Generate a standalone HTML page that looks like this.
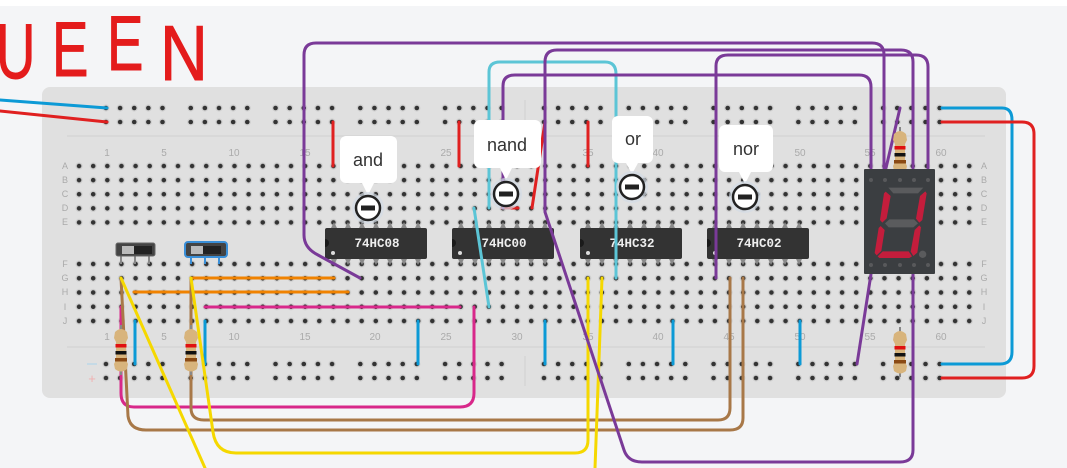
<!DOCTYPE html>
<html><head><meta charset="utf-8"><style>
html,body{margin:0;padding:0;background:#fff;}
svg{display:block;}
</style></head><body>
<svg width="1067" height="468" viewBox="0 0 1067 468" xmlns="http://www.w3.org/2000/svg" style="font-family:'Liberation Sans',sans-serif">
<defs>
<pattern id="pt" x="72" y="159" width="14.13" height="14.1" patternUnits="userSpaceOnUse">
<circle cx="7.06" cy="7.05" r="3.6" fill="#cfcfcf"/><circle cx="7.06" cy="7.05" r="2.3" fill="#333"/></pattern>
<pattern id="pb" x="72" y="256.9" width="14.13" height="14.25" patternUnits="userSpaceOnUse">
<circle cx="7.06" cy="7.12" r="3.6" fill="#cfcfcf"/><circle cx="7.06" cy="7.12" r="2.3" fill="#333"/></pattern>
<pattern id="pr" x="0" y="101" width="14.13" height="14" patternUnits="userSpaceOnUse">
<circle cx="7.06" cy="7" r="3.6" fill="#cfcfcf"/><circle cx="7.06" cy="7" r="2.3" fill="#333"/></pattern>
<pattern id="pr2" x="0" y="357" width="14.13" height="14" patternUnits="userSpaceOnUse">
<circle cx="7.06" cy="7" r="3.6" fill="#cfcfcf"/><circle cx="7.06" cy="7" r="2.3" fill="#333"/></pattern>
<g id="res">
<line x1="0" y1="-25" x2="0" y2="25" stroke="#888" stroke-width="2"/>
<path d="M-6,-18 Q0,-24 6,-18 L7,-12 L5,-8 L5,10 L7,14 L6,19 Q0,24 -6,19 L-7,14 L-5,10 L-5,-8 L-7,-12 Z" fill="#d8b47c"/>
<rect x="-5.5" y="-6" width="11" height="3.5" fill="#e01010"/>
<rect x="-5.5" y="1" width="11" height="3.5" fill="#111"/>
<rect x="-6" y="8" width="12" height="3.5" fill="#8a4a14"/>
</g>
</defs>
<rect x="0" y="6" width="1067" height="462" fill="#f4f5f7"/>
<!-- board -->
<rect x="42" y="87" width="964" height="311" rx="8" fill="#e0e0e0"/>
<line x1="67" y1="136" x2="985" y2="136" stroke="#d0d0d0" stroke-width="1"/>
<line x1="67" y1="347" x2="985" y2="347" stroke="#d0d0d0" stroke-width="1"/>
<line x1="525" y1="100" x2="525" y2="130" stroke="#d0d0d0"/>
<line x1="525" y1="356" x2="525" y2="386" stroke="#d0d0d0"/>
<rect x="72" y="159" width="904.3" height="70.5" fill="url(#pt)"/>
<rect x="72" y="256.9" width="904.3" height="71.3" fill="url(#pb)"/>
<g>
<rect x="100" y="101" width="70.6" height="28" fill="url(#pr)"/>
<rect x="184" y="101" width="70.6" height="28" fill="url(#pr)"/>
<rect x="269" y="101" width="70.6" height="28" fill="url(#pr)"/>
<rect x="353" y="101" width="70.6" height="28" fill="url(#pr)"/>
<rect x="439" y="101" width="70.6" height="28" fill="url(#pr)"/>
<rect x="538" y="101" width="70.6" height="28" fill="url(#pr)"/>
<rect x="623" y="101" width="70.6" height="28" fill="url(#pr)"/>
<rect x="707" y="101" width="70.6" height="28" fill="url(#pr)"/>
<rect x="792" y="101" width="70.6" height="28" fill="url(#pr)"/>
<rect x="877" y="101" width="70.6" height="28" fill="url(#pr)"/>
</g>
<g>
<rect x="100" y="357" width="70.6" height="28" fill="url(#pr2)"/>
<rect x="184" y="357" width="70.6" height="28" fill="url(#pr2)"/>
<rect x="269" y="357" width="70.6" height="28" fill="url(#pr2)"/>
<rect x="353" y="357" width="70.6" height="28" fill="url(#pr2)"/>
<rect x="439" y="357" width="70.6" height="28" fill="url(#pr2)"/>
<rect x="538" y="357" width="70.6" height="28" fill="url(#pr2)"/>
<rect x="623" y="357" width="70.6" height="28" fill="url(#pr2)"/>
<rect x="707" y="357" width="70.6" height="28" fill="url(#pr2)"/>
<rect x="792" y="357" width="70.6" height="28" fill="url(#pr2)"/>
<rect x="877" y="357" width="70.6" height="28" fill="url(#pr2)"/>
</g>
<!-- labels -->
<g font-size="10" fill="#aaa" text-anchor="middle">
<text x="107" y="156">1</text><text x="164" y="156">5</text><text x="234" y="156">10</text><text x="305" y="156">15</text><text x="375" y="156">20</text><text x="446" y="156">25</text><text x="517" y="156">30</text><text x="588" y="156">35</text><text x="658" y="156">40</text><text x="729" y="156">45</text><text x="800" y="156">50</text><text x="870" y="156">55</text><text x="941" y="156">60</text>
<text x="107" y="340">1</text><text x="164" y="340">5</text><text x="234" y="340">10</text><text x="305" y="340">15</text><text x="375" y="340">20</text><text x="446" y="340">25</text><text x="517" y="340">30</text><text x="588" y="340">35</text><text x="658" y="340">40</text><text x="729" y="340">45</text><text x="800" y="340">50</text><text x="870" y="340">55</text><text x="941" y="340">60</text>
<g font-size="9">
<text x="65" y="169">A</text><text x="65" y="183">B</text><text x="65" y="197">C</text><text x="65" y="211">D</text><text x="65" y="225">E</text>
<text x="65" y="267">F</text><text x="65" y="281">G</text><text x="65" y="295">H</text><text x="65" y="310">I</text><text x="65" y="324">J</text>
<text x="984" y="169">A</text><text x="984" y="183">B</text><text x="984" y="197">C</text><text x="984" y="211">D</text><text x="984" y="225">E</text>
<text x="984" y="267">F</text><text x="984" y="281">G</text><text x="984" y="295">H</text><text x="984" y="310">I</text><text x="984" y="324">J</text>
</g>
</g>
<line x1="87" y1="364" x2="97" y2="364" stroke="#bcd8e8" stroke-width="1.5"/>
<text x="92" y="383" font-size="13" fill="#f0b0b0" text-anchor="middle">+</text>
<!-- UEEN -->
<g font-size="78" fill="#e41c1c" stroke="#e41c1c" stroke-width="1">
<text transform="translate(-4 78) scale(0.7 1)">U</text>
<text transform="translate(52 76) scale(0.7 1)">E</text>
<text transform="translate(107 70) scale(0.7 1)">E</text>
<text transform="translate(160 80) scale(0.85 1)">N</text>
</g>
<!-- ICs -->
<g fill="#8a8a8a">
<path d="M334,222 l-3,6 h6z M348,222 l-3,6 h6z M362,222 l-3,6 h6z M376,222 l-3,6 h6z M390,222 l-3,6 h6z M404,222 l-3,6 h6z M418,222 l-3,6 h6z"/>
<path d="M461,222 l-3,6 h6z M475,222 l-3,6 h6z M489,222 l-3,6 h6z M503,222 l-3,6 h6z M517,222 l-3,6 h6z M531,222 l-3,6 h6z M545,222 l-3,6 h6z"/>
<path d="M588,222 l-3,6 h6z M602,222 l-3,6 h6z M616,222 l-3,6 h6z M630,222 l-3,6 h6z M644,222 l-3,6 h6z M658,222 l-3,6 h6z M672,222 l-3,6 h6z"/>
<path d="M715,222 l-3,6 h6z M729,222 l-3,6 h6z M743,222 l-3,6 h6z M757,222 l-3,6 h6z M771,222 l-3,6 h6z M785,222 l-3,6 h6z M799,222 l-3,6 h6z"/>
<path d="M331,259 l3,6 l3,-6z M345,259 l3,6 l3,-6z M359,259 l3,6 l3,-6z M373,259 l3,6 l3,-6z M387,259 l3,6 l3,-6z M401,259 l3,6 l3,-6z M415,259 l3,6 l3,-6z"/>
<path d="M458,259 l3,6 l3,-6z M472,259 l3,6 l3,-6z M486,259 l3,6 l3,-6z M500,259 l3,6 l3,-6z M514,259 l3,6 l3,-6z M528,259 l3,6 l3,-6z M542,259 l3,6 l3,-6z"/>
<path d="M585,259 l3,6 l3,-6z M599,259 l3,6 l3,-6z M613,259 l3,6 l3,-6z M627,259 l3,6 l3,-6z M641,259 l3,6 l3,-6z M655,259 l3,6 l3,-6z M669,259 l3,6 l3,-6z"/>
<path d="M712,259 l3,6 l3,-6z M726,259 l3,6 l3,-6z M740,259 l3,6 l3,-6z M754,259 l3,6 l3,-6z M768,259 l3,6 l3,-6z M782,259 l3,6 l3,-6z M796,259 l3,6 l3,-6z"/>
</g>
<g font-size="12.5" fill="#eee" text-anchor="middle" style="font-family:'Liberation Mono',monospace;font-weight:bold">
<rect x="325" y="228" width="102" height="31" rx="2" fill="#333"/><path d="M325,239 a4,4 0 0 1 0,8z" fill="#1a1a1a"/><circle cx="333" cy="253" r="2" fill="#ddd"/><text x="377" y="247">74HC08</text>
<rect x="452" y="228" width="102" height="31" rx="2" fill="#333"/><path d="M452,239 a4,4 0 0 1 0,8z" fill="#1a1a1a"/><circle cx="460" cy="253" r="2" fill="#ddd"/><text x="504" y="247">74HC00</text>
<rect x="580" y="228" width="102" height="31" rx="2" fill="#333"/><path d="M580,239 a4,4 0 0 1 0,8z" fill="#1a1a1a"/><circle cx="588" cy="253" r="2" fill="#ddd"/><text x="632" y="247">74HC32</text>
<rect x="707" y="228" width="102" height="31" rx="2" fill="#333"/><path d="M707,239 a4,4 0 0 1 0,8z" fill="#1a1a1a"/><circle cx="715" cy="253" r="2" fill="#ddd"/><text x="759" y="247">74HC02</text>
</g>
<!-- switches -->
<g>
<line x1="121" y1="256" x2="121" y2="264" stroke="#888" stroke-width="2"/><line x1="135" y1="256" x2="135" y2="264" stroke="#888" stroke-width="2"/><line x1="149" y1="256" x2="149" y2="264" stroke="#888" stroke-width="2"/>
<rect x="116" y="243" width="39" height="13" rx="2" fill="#444" stroke="#666"/><rect x="122" y="246" width="12" height="8" fill="#bbb"/><rect x="134" y="246" width="18" height="8" fill="#222"/>
<line x1="191" y1="256" x2="191" y2="264" stroke="#3a8fd8" stroke-width="2"/><line x1="205" y1="256" x2="205" y2="264" stroke="#3a8fd8" stroke-width="2"/><line x1="219" y1="256" x2="219" y2="264" stroke="#3a8fd8" stroke-width="2"/>
<rect x="185" y="242" width="42" height="15" rx="3" fill="#444" stroke="#3a8fd8" stroke-width="2"/><rect x="191" y="246" width="12" height="8" fill="#bbb"/><rect x="203" y="246" width="18" height="8" fill="#222"/>
</g>
<!-- wires -->
<g fill="none" stroke-linecap="round" stroke-width="3">
<path d="M0,100 L107,108" stroke="#0c9ad6"/>
<path d="M0,111 L107,122" stroke="#e02020"/>
<path d="M942,108 H1002 Q1012,108 1012,120 V352 Q1012,364 1000,364 H942" stroke="#0c9ad6"/>
<path d="M942,122 H1022 Q1034,122 1034,134 V366 Q1034,378 1022,378 H942" stroke="#e02020"/>
<path d="M333,122 V166 M459,122 V166 M588,122 V166" stroke="#e02020"/>
<path d="M532,208 L545,122 M502,208 H518" stroke="#e02020"/>
<path d="M135,321 V364 M205,321 V364 M418,321 V364 M545,321 V364 M673,321 V364 M800,321 V364" stroke="#0c9ad6"/>
<path d="M489,208 V72 Q489,62 500,62 H605 Q616,62 616,74 V278" stroke="#5cc5d6"/>
<path d="M474,208 L489,307" stroke="#5cc5d6"/>
<path d="M191,278 H334 M134,292 H348" stroke="#f08200"/>
<path d="M205,307 H460" stroke="#d8288a"/>
<path d="M474,307 V393 Q474,407 460,407 H134 Q121,407 121,393 V307" stroke="#d8288a"/>
<path d="M191,278 V408 Q191,420 204,420 H718 Q730,420 730,408 V278" stroke="#a87848"/>
<path d="M121,278 L128,416 Q130,430 146,430 H730 Q743,430 743,418 V278" stroke="#a87848"/>
<path d="M121,278 L205,468" stroke="#f5d800"/>
<path d="M191,278 L213,432 Q216,453 236,453 H575 Q588,453 588,440 V278" stroke="#f5d800"/>
<path d="M602,278 L595,468" stroke="#f5d800"/>
<path d="M360,278 L318,255 Q304,248 304,235 V55 Q304,43 316,43 H872 Q884,43 884,55 V168" stroke="#7a3a98"/>
<path d="M503,208 V86 Q503,75 515,75 H859 Q871,75 871,87 V168" stroke="#7a3a98"/>
<path d="M913,168 V62 Q913,50 901,50 H557 Q545,50 545,62 V212 L624,450 Q628,462 642,462 H900 Q913,462 913,450 V274" stroke="#7a3a98"/>
<path d="M716,278 V66 Q716,55 728,55 H916 Q928,55 928,67 V168" stroke="#7a3a98"/>
<path d="M857,364 L871,274 M886,168 L900,108" stroke="#7a3a98"/>
</g>
<!-- resistors -->
<use href="#res" x="121" y="350"/>
<use href="#res" x="191" y="350"/>
<use href="#res" x="900" y="152"/>
<use href="#res" x="900" y="352"/>
<!-- 7 segment -->
<rect x="864" y="169" width="71" height="105" rx="1" fill="#3b3e41"/>
<g fill="#58595b"><circle cx="871" cy="180" r="2"/><circle cx="885" cy="180" r="2"/><circle cx="900" cy="180" r="2"/><circle cx="914" cy="180" r="2"/><circle cx="928" cy="180" r="2"/>
<circle cx="871" cy="265" r="2"/><circle cx="885" cy="265" r="2"/><circle cx="900" cy="265" r="2"/><circle cx="914" cy="265" r="2"/><circle cx="928" cy="265" r="2"/></g>
<g transform="translate(840 150) scale(0.3333)">
<polygon points="145,113 250,113 234,130 160,130" fill="#5a5b5d"/>
<polygon points="137,125 152,138 140,205 127,218 120,210 132,130" fill="#c41d3c"/>
<polygon points="256,124 260,130 247,210 238,218 228,206 240,138" fill="#c41d3c"/>
<polygon points="135,220 148,208 222,208 234,220 220,232 146,232" fill="#5a5b5d"/>
<polygon points="122,228 134,240 124,303 110,316 104,309 116,234" fill="#c41d3c"/>
<polygon points="238,226 243,232 232,308 220,318 212,305 224,240" fill="#c41d3c"/>
<polygon points="113,319 128,304 206,304 216,319 208,324 118,324" fill="#c41d3c"/>
<circle cx="248" cy="313" r="11" fill="#5a5b5d"/>
</g>
<!-- bubbles -->
<g font-size="18" fill="#333" text-anchor="middle">
<g><rect x="340" y="136" width="57" height="47" rx="6" fill="#fff"/><path d="M362,183 L368,195 L374,183Z" fill="#fff"/><text x="368" y="166">and</text></g>
<g><rect x="474" y="120" width="67" height="48" rx="6" fill="#fff"/><path d="M500,168 L506,180 L512,168Z" fill="#fff"/><text x="507" y="151">nand</text></g>
<g><rect x="612" y="116" width="41" height="47" rx="6" fill="#fff"/><path d="M626,163 L632,174 L638,163Z" fill="#fff"/><text x="633" y="145">or</text></g>
<g><rect x="719" y="125" width="54" height="47" rx="6" fill="#fff"/><path d="M739,172 L745,184 L751,172Z" fill="#fff"/><text x="746" y="155">nor</text></g>
</g>
<g>
<circle cx="368" cy="208" r="16" fill="#d3dce6" opacity="0.7"/><circle cx="368" cy="208" r="12" fill="#fff" stroke="#222" stroke-width="2.5"/><rect x="361" y="205.5" width="14" height="5" fill="#222"/>
<circle cx="506" cy="194" r="16" fill="#d3dce6" opacity="0.7"/><circle cx="506" cy="194" r="12" fill="#fff" stroke="#222" stroke-width="2.5"/><rect x="499" y="191.5" width="14" height="5" fill="#222"/>
<circle cx="632" cy="187" r="16" fill="#d3dce6" opacity="0.7"/><circle cx="632" cy="187" r="12" fill="#fff" stroke="#222" stroke-width="2.5"/><rect x="625" y="184.5" width="14" height="5" fill="#222"/>
<circle cx="745" cy="197" r="16" fill="#d3dce6" opacity="0.7"/><circle cx="745" cy="197" r="12" fill="#fff" stroke="#222" stroke-width="2.5"/><rect x="738" y="194.5" width="14" height="5" fill="#222"/>
</g>
</svg>
</body></html>
